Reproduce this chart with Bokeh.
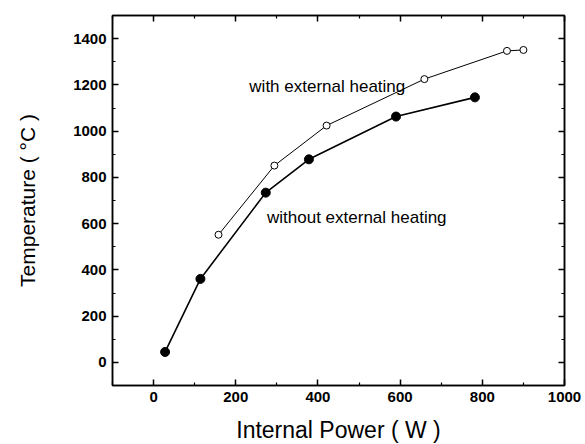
from bokeh.plotting import figure
from bokeh.models import LinearAxis, Range1d, FixedTicker
from bokeh.core.properties import value
from bokeh.embed import file_html
from bokeh.resources import INLINE

# Data
power_with = [158, 294, 421, 659, 860, 900]
temp_with = [552, 851, 1024, 1225, 1347, 1351]
power_without = [28, 114, 273, 378, 590, 782]
temp_without = [45, 361, 734, 878, 1063, 1146]

x_ticks = [0, 200, 400, 600, 800, 1000]
y_ticks = [0, 200, 400, 600, 800, 1000, 1200, 1400]
x_minor = [-100, 100, 300, 500, 700, 900]
y_minor = [-100, 100, 300, 500, 700, 900, 1100, 1300, 1500]

label_with = "with external heating"
label_without = "without external heating"

FONT = "Liberation Sans"

p = figure(frame_width=452, frame_height=370,
           x_range=Range1d(-100, 1000), y_range=Range1d(-100, 1500),
           output_backend="svg", toolbar_location=None,
           min_border_left=112, min_border_top=15, min_border_right=21, min_border_bottom=59,
           background_fill_color="white", border_fill_color="white")
p.grid.visible = False
p.outline_line_color = "black"
p.outline_line_width = 1.5

def style_axis(ax, ticks, minor, labels=True):
    ax.ticker = FixedTicker(ticks=ticks, minor_ticks=minor)
    ax.major_tick_in = 6
    ax.major_tick_out = 0
    ax.minor_tick_in = 3
    ax.minor_tick_out = 0
    ax.axis_line_width = 1.5
    ax.major_tick_line_width = 1.5
    ax.minor_tick_line_width = 1.2
    ax.axis_line_color = "black"
    ax.major_tick_line_color = "black"
    ax.minor_tick_line_color = "black"
    if labels:
        ax.major_label_text_font = FONT
        ax.major_label_text_font_size = "15px"
        ax.major_label_text_font_style = "bold"
        ax.major_label_text_color = "black"
    else:
        ax.major_label_text_font_size = "0px"
        ax.major_label_text_color = None

style_axis(p.xaxis[0], x_ticks, x_minor)
style_axis(p.yaxis[0], y_ticks, y_minor)
p.xaxis[0].major_label_standoff = 6
p.yaxis[0].major_label_standoff = 6

p.xaxis[0].axis_label = "Internal Power ( W )"
p.yaxis[0].axis_label = "Temperature ( °C )"
for ax in (p.xaxis[0], p.yaxis[0]):
    ax.axis_label_text_font = FONT
    ax.axis_label_text_font_style = "normal"
    ax.axis_label_text_color = "black"
p.xaxis[0].axis_label_text_font_size = "23px"
p.yaxis[0].axis_label_text_font_size = "21px"
p.xaxis[0].axis_label_standoff = 12
p.yaxis[0].axis_label_standoff = 31

top = LinearAxis()
style_axis(top, x_ticks, x_minor, labels=False)
p.add_layout(top, "above")
right = LinearAxis()
style_axis(right, y_ticks, y_minor, labels=False)
p.add_layout(right, "right")

# with external heating (open circles, thin line)
p.line(power_with, temp_with, line_color="black", line_width=1)
p.scatter(power_with, temp_with, marker="circle", size=7,
          fill_color="white", line_color="black", line_width=1)

# without external heating (filled circles, thicker line)
p.line(power_without, temp_without, line_color="black", line_width=1.6)
p.scatter(power_without, temp_without, marker="circle", size=9,
          fill_color="black", line_color="black")

p.text(x=[233], y=[1195], text=[label_with], text_font=value(FONT),
       text_font_size="17px", text_color="black", text_baseline="alphabetic",
       text_align="left")
p.text(x=[276], y=[625], text=[label_without], text_font=value(FONT),
       text_font_size="17px", text_color="black", text_baseline="alphabetic",
       text_align="left")

open("out.html", "w").write(file_html(p, INLINE))
